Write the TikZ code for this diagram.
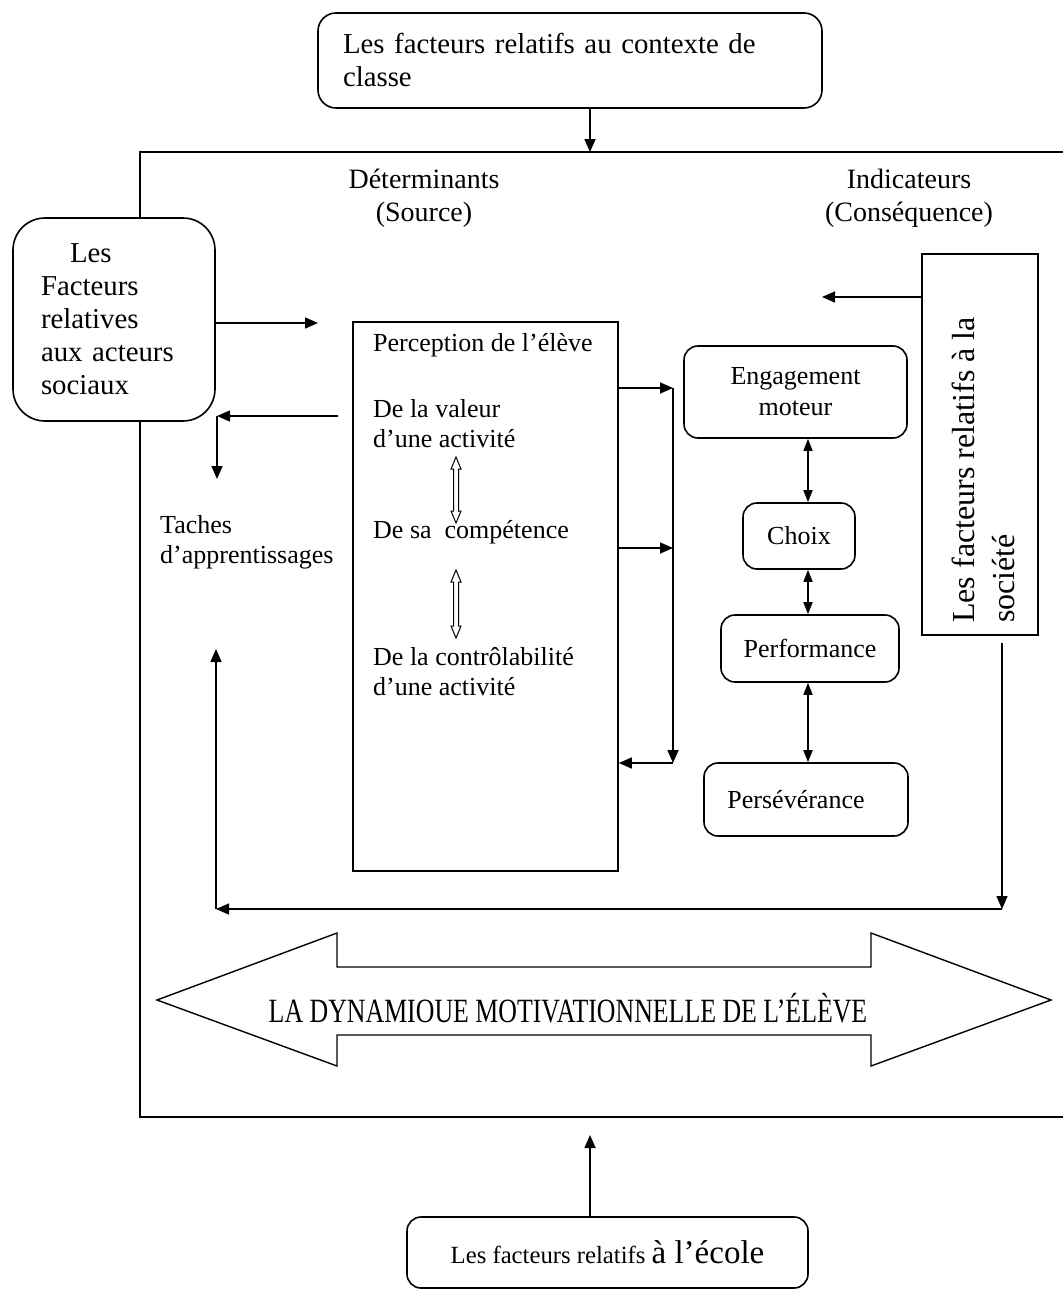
\documentclass[tikz,border=0pt]{standalone}
\usepackage{fontspec}
\setmainfont{Liberation Serif}
\usetikzlibrary{arrows.meta}
\begin{document}
\begin{tikzpicture}[x=1pt,y=-1pt,
  lw/.style={line width=1.6pt},
  rbox/.style={draw, lw, rounded corners=#1, fill=white, inner sep=0pt},
  rbox/.default=14pt,
  sqbox/.style={draw, lw, fill=white, inner sep=0pt},
  txt/.style={inner sep=0pt, font=\fontsize{26}{30}\selectfont},
  conn/.style={lw, -{Triangle[length=13pt,width=11pt]}},
  dblarrow/.style={lw, {Triangle[length=12pt,width=9pt]}-{Triangle[length=12pt,width=9pt]}},
  hollow/.style={line width=1pt, fill=white, line join=miter}
]
\useasboundingbox (0,0) rectangle (1063,1290);
\fill[white] (0,0) rectangle (1063,1290);

% outer frame, open to the right
\draw[lw] (1063,152) -- (140,152) -- (140,1117) -- (1063,1117);
\coordinate (frameTop) at (590,152);
\coordinate (frameBot) at (590,1135);

% class context
\node[rbox=18pt, minimum width=504pt, minimum height=95pt, text width=454pt,
      inner xsep=25pt, align=left, font=\fontsize{28.8}{33}\selectfont]
  (classe) at (570,60.5) {Les facteurs relatifs au contexte de\\classe};
\draw[conn] (classe.south -| frameTop) -- (frameTop);

% social actors
\node[rbox=32pt, minimum width=202pt, minimum height=203pt, text width=146pt,
      inner xsep=28pt, align=left, font=\fontsize{28.8}{33}\selectfont]
  (acteurs) at (114,319.5) {\hspace*{29pt}Les\\Facteurs\\relatives\\aux acteurs\\sociaux};

% column headers
\node[align=center, inner sep=0pt, font=\fontsize{28}{33}\selectfont]
  (det) at (424,198) {Déterminants\\(Source)};
\node[align=center, inner sep=0pt, font=\fontsize{28}{33}\selectfont]
  (ind) at (909,198) {Indicateurs\\(Conséquence)};

% student perception
\node[sqbox, minimum width=265pt, minimum height=549pt] (perc) at (485.5,596.5) {};
\node[txt, anchor=west] (pTitle) at (373,345) {Perception de l’élève};
\node[txt, anchor=west, align=left] (pVal) at (373,424) {De la valeur\\d’une activité};
\node[txt, anchor=west] (pComp) at (373,532) {De sa\ \ compétence};
\node[txt, anchor=west, align=left] (pCtrl) at (373,672) {De la contrôlabilité\\d’une activité};

% hollow two-way arrows between the perceptions
\coordinate (h1s) at (456,457);
\coordinate (h2s) at (456,570);
\draw[hollow] (h1s) -- ++(5,12) -- ++(-2.5,0) -- ++(0,42) -- ++(2.5,0) -- ++(-5,12)
  -- ++(-5,-12) -- ++(2.5,0) -- ++(0,-42) -- ++(-2.5,0) -- cycle;
\draw[hollow] (h2s) -- ++(5,12) -- ++(-2.5,0) -- ++(0,44) -- ++(2.5,0) -- ++(-5,12)
  -- ++(-5,-12) -- ++(2.5,0) -- ++(0,-44) -- ++(-2.5,0) -- cycle;

% links to the indicators
\coordinate (busTop) at (673,388);
\coordinate (busMid) at (673,548);
\coordinate (busBot) at (673,763);
\draw[conn] (perc.east |- busTop) -- (busTop);
\draw[conn] (perc.east |- busMid) -- (busMid);
\draw[conn] (busTop) -- (busBot);
\draw[conn] (busBot) -- (perc.east |- busBot);

% indicators
\node[rbox, minimum width=223pt, minimum height=92pt, align=center,
      font=\fontsize{26}{31}\selectfont] (eng) at (795.5,392) {Engagement\\moteur};
\node[rbox, minimum width=112pt, minimum height=66pt,
      font=\fontsize{26}{31}\selectfont] (choix) at (799,536) {Choix};
\node[rbox, minimum width=178pt, minimum height=67pt,
      font=\fontsize{26}{31}\selectfont] (perf) at (810,648.5) {Performance};
\node[rbox, minimum width=204pt, minimum height=73pt,
      font=\fontsize{26}{31}\selectfont] (pers) at (806,799.5) {\hspace*{-20pt}Persévérance};

\coordinate (ax) at (808,0);
\draw[dblarrow] (eng.south -| ax) -- (choix.north -| ax);
\draw[dblarrow] (choix.south -| ax) -- (perf.north -| ax);
\draw[dblarrow] (perf.south -| ax) -- (pers.north -| ax);

% society
\node[sqbox, minimum width=116pt, minimum height=381pt] (soc) at (980,444.5) {};
\node[rotate=90, anchor=west, align=left, inner sep=0pt,
      font=\fontsize{32}{40}\selectfont] (socTxt) at (983,623)
  {Les facteurs relatifs à la\\société};
\coordinate (socIn) at (822,297);
\draw[conn] (soc.west |- socIn) -- (socIn);

% learning tasks
\node[txt, anchor=west, align=left] (taches) at (160,542.5) {Taches\\d’apprentissages};

\coordinate (aIn) at (318,323);
\draw[conn] (acteurs.east |- aIn) -- (aIn);
\coordinate (bStart) at (338,416);
\coordinate (bCorner) at (217,416);
\coordinate (tachTop) at (217,479);
\draw[conn] (bStart) -- (bCorner);
\draw[conn] (bCorner) -- (tachTop);

% feedback loop
\coordinate (loopR) at (1002,909);
\coordinate (loopL) at (216,909);
\coordinate (tachBot) at (216,649);
\draw[conn, shorten <=7pt] (soc.south -| loopR) -- (loopR);
\draw[conn] (loopR) -- (loopL);
\draw[conn] (loopL) -- (tachBot);

% motivational dynamics
\draw[line width=1.4pt, line join=miter] (157,1000) -- (337,933) -- (337,967) -- (871,967)
  -- (871,933) -- (1051,1000) -- (871,1066) -- (871,1035) -- (337,1035) -- (337,1066) -- cycle;
\node[inner sep=0pt, font=\fontsize{34}{40}\selectfont] (dyn) at (568,1008)
  {\scalebox{0.76}[1]{LA DYNAMIOUE MOTIVATIONNELLE DE L’ÉLÈVE}};

% school
\node[rbox, minimum width=401pt, minimum height=71pt,
      font=\fontsize{24.7}{30}\selectfont] (ecole) at (607.5,1252.5)
  {Les facteurs relatifs {\fontsize{33}{38}\selectfont à l’école}};
\draw[conn] (ecole.north -| frameBot) -- (frameBot);
\end{tikzpicture}
\end{document}
